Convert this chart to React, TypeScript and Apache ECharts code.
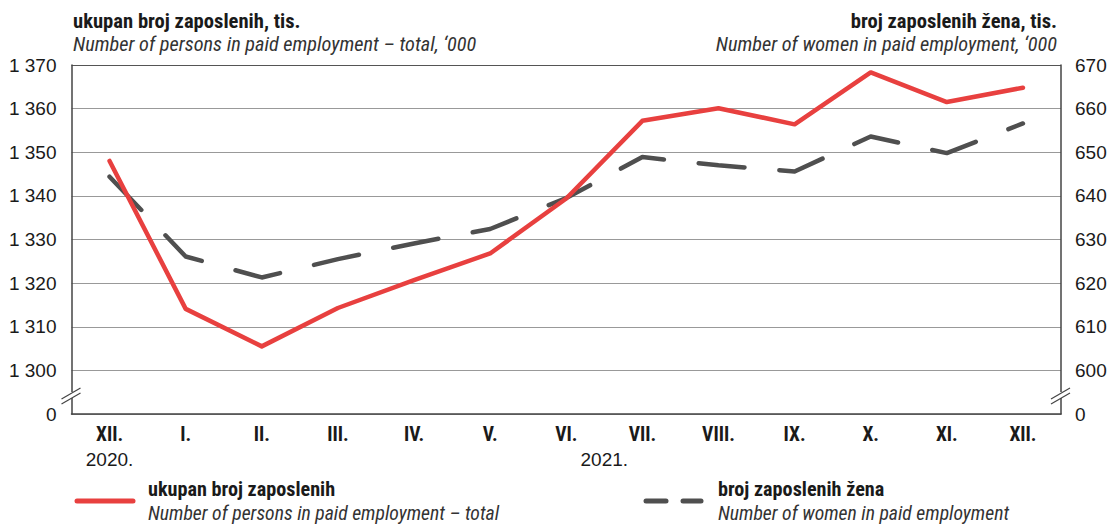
import React, { useEffect, useRef } from "react";
import * as echarts from "echarts";

const months = ["XII.", "I.", "II.", "III.", "IV.", "V.", "VI.", "VII.", "VIII.", "IX.", "X.", "XI.", "XII."];
const years = [
  { label: "2020.", from: 0, to: 0 },
  { label: "2021.", from: 1, to: 12 },
];
const totalEmployed = [1348.0, 1314.1, 1305.5, 1314.3, 1320.7, 1326.8, 1339.4, 1357.2, 1360.1, 1356.4, 1368.3, 1361.5, 1364.8];
const womenEmployed = [644.4, 626.1, 621.3, 625.5, 629.1, 632.4, 639.5, 648.9, 647.0, 645.6, 653.6, 649.8, 656.6];

const leftAxis = { min: 1290, max: 1370, interval: 10, zeroAt: 1290 };
const rightAxis = { min: 590, max: 670, interval: 10, zeroAt: 590 };

const titleLeft = "ukupan broj zaposlenih, tis.";
const subtitleLeft = "Number of persons in paid employment – total, ‘000";
const titleRight = "broj zaposlenih žena, tis.";
const subtitleRight = "Number of women in paid employment, ‘000";
const legendTotal = "ukupan broj zaposlenih";
const legendTotalEn = "Number of persons in paid employment – total";
const legendWomen = "broj zaposlenih žena";
const legendWomenEn = "Number of women in paid employment";

const RED = "#e8403f";
const GRAY = "#4f4f4f";
const NARROW = "'Liberation Sans Narrow', 'Arial Narrow', 'Roboto Condensed', sans-serif";
const SANS = "'Liberation Sans', Arial, sans-serif";

const fmtThousands = (v: number) => {
  const s = String(Math.round(v));
  return s.replace(/\B(?=(\d{3})+(?!\d))/g, " ");
};

export default function App() {
  const ref = useRef<HTMLDivElement>(null);
  useEffect(() => {
    if (!ref.current) return;
    document.body.style.margin = "0";
    const chart = echarts.init(ref.current, undefined, { renderer: "svg" });
    const gridLeft = 71.5;
    const gridRight = 50;
    const gridTop = 65;
    const gridBottom = 110;
    const axisLeftX = gridLeft;
    const axisRightX = 1111 - gridRight;
    const breakY = 395;

    const splitColors = ["#999", "#999", "#999", "#999", "#999", "#999", "#999", "#999", "#555"];

    const breakMark = (x: number, id: string) => [
      {
        type: "rect",
        id: id + "-gap",
        shape: { x: x - 3, y: breakY - 3, width: 6, height: 6 },
        style: { fill: "#fff" },
        z: 100,
      },
      {
        type: "line",
        id: id + "-l1",
        shape: { x1: x - 10, y1: breakY + 4, x2: x + 9, y2: breakY - 7 },
        style: { stroke: "#444", lineWidth: 1.2 },
        z: 101,
      },
      {
        type: "line",
        id: id + "-l2",
        shape: { x1: x - 10, y1: breakY + 9, x2: x + 9, y2: breakY - 2 },
        style: { stroke: "#444", lineWidth: 1.2 },
        z: 101,
      },
    ];

    const graphics: any[] = [
      {
        type: "text",
        left: 73,
        top: 10,
        style: { text: titleLeft, font: `bold 20.6px ${NARROW}`, fill: "#1a1a1a" },
      },
      {
        type: "text",
        left: 73,
        top: 34,
        style: { text: subtitleLeft, font: `italic 20.3px ${NARROW}`, fill: "#333" },
      },
      {
        type: "text",
        right: 1111 - 1057,
        top: 10,
        style: { text: titleRight, font: `bold 20.6px ${NARROW}`, fill: "#1a1a1a" },
      },
      {
        type: "text",
        right: 1111 - 1057,
        top: 34,
        style: { text: subtitleRight, font: `italic 20.3px ${NARROW}`, fill: "#333" },
      },
      ...breakMark(axisLeftX, "bl"),
      ...breakMark(axisRightX, "br"),
      {
        type: "line",
        shape: { x1: 77, y1: 501, x2: 133, y2: 501 },
        style: { stroke: RED, lineWidth: 5, lineCap: "round" },
      },
      {
        type: "text",
        x: 148,
        y: 489,
        style: { text: legendTotal, font: `bold 20.2px ${NARROW}`, fill: "#1a1a1a", verticalAlign: "middle" },
      },
      {
        type: "text",
        x: 148,
        y: 513,
        style: { text: legendTotalEn, font: `italic 19.7px ${NARROW}`, fill: "#333", verticalAlign: "middle" },
      },
      {
        type: "line",
        shape: { x1: 646, y1: 501, x2: 666, y2: 501 },
        style: { stroke: GRAY, lineWidth: 5, lineCap: "round" },
      },
      {
        type: "line",
        shape: { x1: 683, y1: 501, x2: 701, y2: 501 },
        style: { stroke: GRAY, lineWidth: 5, lineCap: "round" },
      },
      {
        type: "text",
        x: 718,
        y: 489,
        style: { text: legendWomen, font: `bold 20.2px ${NARROW}`, fill: "#1a1a1a", verticalAlign: "middle" },
      },
      {
        type: "text",
        x: 718,
        y: 513,
        style: { text: legendWomenEn, font: `italic 19.7px ${NARROW}`, fill: "#333", verticalAlign: "middle" },
      },
    ];

    chart.setOption({
      animation: false,
      grid: { left: gridLeft, right: gridRight, top: gridTop, bottom: gridBottom, containLabel: false },
      xAxis: {
        type: "category",
        data: months,
        boundaryGap: true,
        axisLine: { lineStyle: { color: "#444", width: 1.5 } },
        axisTick: { show: false },
        axisLabel: {
          margin: 10,
          fontFamily: NARROW,
          fontWeight: "bold",
          fontSize: 19.5,
          color: "#1a1a1a",
        },
      },
      yAxis: [
        {
          type: "value",
          min: leftAxis.min,
          max: leftAxis.max,
          interval: leftAxis.interval,
          axisLine: { show: true, lineStyle: { color: "#444", width: 1.5 } },
          axisTick: { show: false },
          splitLine: { show: true, lineStyle: { color: splitColors, width: 1 } },
          axisLabel: {
            margin: 15,
            fontFamily: SANS,
            fontSize: 19,
            color: "#1a1a1a",
            formatter: (v: number) => (v === leftAxis.zeroAt ? "0" : fmtThousands(v)),
          },
        },
        {
          type: "value",
          position: "right",
          min: rightAxis.min,
          max: rightAxis.max,
          interval: rightAxis.interval,
          axisLine: { show: true, lineStyle: { color: "#444", width: 1.5 } },
          axisTick: { show: false },
          splitLine: { show: false },
          axisLabel: {
            margin: 14,
            fontFamily: SANS,
            fontSize: 19,
            color: "#1a1a1a",
            formatter: (v: number) => (v === rightAxis.zeroAt ? "0" : fmtThousands(v)),
          },
        },
      ],
      series: [
        {
          name: legendWomen,
          type: "line",
          yAxisIndex: 1,
          data: womenEmployed,
          symbol: "none",
          z: 2,
          lineStyle: { color: GRAY, width: 4.5, type: [46, 35], cap: "round", join: "round" },
        },
        {
          name: legendTotal,
          type: "line",
          yAxisIndex: 0,
          data: totalEmployed,
          symbol: "none",
          z: 3,
          lineStyle: { color: RED, width: 4.5, cap: "round", join: "round" },
        },
      ],
      graphic: graphics,
    });

    const yearGraphics = years.map((yr, i) => {
      const a = chart.convertToPixel({ xAxisIndex: 0 }, yr.from) as number;
      const b = chart.convertToPixel({ xAxisIndex: 0 }, yr.to) as number;
      return {
        type: "text",
        id: "year-" + i,
        x: (a + b) / 2,
        y: 459,
        style: {
          text: yr.label,
          font: `19px ${SANS}`,
          fill: "#1a1a1a",
          align: "center",
          verticalAlign: "middle",
        },
      };
    });
    chart.setOption({ graphic: [...graphics, ...yearGraphics] });

    return () => chart.dispose();
  }, []);
  return <div ref={ref} style={{ width: 1111, height: 524 }} />;
}
